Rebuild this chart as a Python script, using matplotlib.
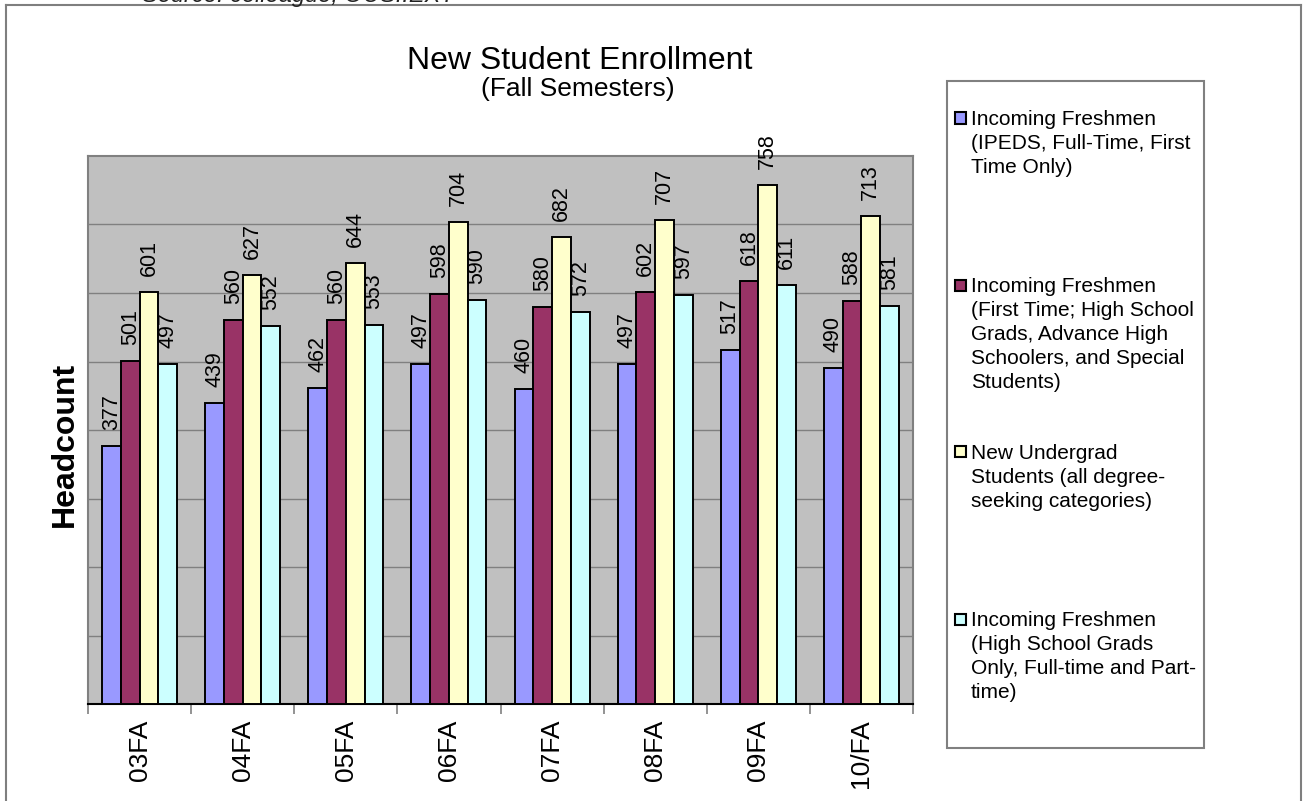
import matplotlib
matplotlib.use("Agg")
import matplotlib.pyplot as plt
from matplotlib.patches import Rectangle
from matplotlib.lines import Line2D
import numpy as np

plt.rcParams['font.family'] = ['Liberation Sans', 'DejaVu Sans']

categories = ["03FA", "04FA", "05FA", "06FA", "07FA", "08FA", "09FA", "10/FA"]
ipeds_ft = [377, 439, 462, 497, 460, 497, 517, 490]
first_time_all = [501, 560, 560, 598, 580, 602, 618, 588]
new_undergrad = [601, 627, 644, 704, 682, 707, 758, 713]
hs_grads = [497, 552, 553, 590, 572, 597, 611, 581]

series_labels = [
    "Incoming Freshmen\n(IPEDS, Full-Time, First\nTime Only)",
    "Incoming Freshmen\n(First Time; High School\nGrads, Advance High\nSchoolers, and Special\nStudents)",
    "New Undergrad\nStudents (all degree-\nseeking categories)",
    "Incoming Freshmen\n(High School Grads\nOnly, Full-time and Part-\ntime)",
]
series_values = [ipeds_ft, first_time_all, new_undergrad, hs_grads]
colors = ["#9999FF", "#993366", "#FFFFCC", "#CCFFFF"]

W, H = 1303, 801
fig = plt.figure(figsize=(W / 100, H / 100), dpi=100)

def px(x, y):
    return x / W, 1 - y / H

# axes placement
left, right, top, bottom = 88, 913, 156, 704
ax = fig.add_axes([left / W, 1 - bottom / H, (right - left) / W, (bottom - top) / H])
ax.set_facecolor("#C0C0C0")

x = np.arange(len(categories))
bw = 0.182
for i, (vals, c) in enumerate(zip(series_values, colors)):
    bars = ax.bar(x + (i - 1.5) * bw, vals, bw, color=c, edgecolor="black",
                  linewidth=1.4, zorder=3)
    ax.bar_label(bars, labels=[str(v) for v in vals], rotation=90, padding=11.5,
                 fontsize=15.5, color="black")

ax.set_xlim(-0.5, len(categories) - 0.5)
ax.set_ylim(0, 800)
ax.set_yticks(np.arange(100, 800, 100))
ax.yaxis.grid(True, color="#808080", linewidth=1.0, zorder=1)
ax.tick_params(axis="y", length=0, labelleft=False)

ax.set_xticks(np.arange(-0.5, len(categories), 1.0))
ax.set_xticklabels([])
ax.tick_params(axis="x", which="major", length=7, color="#808080", width=1.2)
ax.set_xticks(x, minor=True)
ax.set_xticklabels(categories, minor=True, rotation=90, fontsize=19)
ax.tick_params(axis="x", which="minor", length=0, pad=11)

for s in ax.spines.values():
    s.set_color("#808080")
    s.set_linewidth(1.5)
ax.spines["bottom"].set_color("black")

# titles
fig.text(*px(580, 69), "New Student Enrollment", fontsize=23, ha="center", va="baseline")
fig.text(*px(578, 96), "(Fall Semesters)", fontsize=19, ha="center", va="baseline")
fig.text(*px(64.5, 444), "Headcount", fontsize=23, fontweight="bold",
         rotation=90, ha="center", va="center")
fig.text(*px(142, 2), "Source: colleague; OUSI.EXT", fontsize=17, style="italic",
         ha="left", va="baseline", color="#222222")

# outer border
bc = "#7f7f7f"
fig.add_artist(Line2D([6 / W, 1301 / W], [1 - 5 / H] * 2, color=bc, lw=1.5))
fig.add_artist(Line2D([6 / W] * 2, [1 - 5 / H, 0], color=bc, lw=1.5))
fig.add_artist(Line2D([1301 / W] * 2, [1 - 5 / H, 0], color=bc, lw=1.5))

# legend box
lx0, ly0, lx1, ly1 = 947, 81, 1204, 748
fig.add_artist(Rectangle(px(lx0, ly1), (lx1 - lx0) / W, (ly1 - ly0) / H,
                         transform=fig.transFigure, facecolor="white",
                         edgecolor="#808080", lw=1.5))
for i, (lab, c) in enumerate(zip(series_labels, colors)):
    cy = 118 + 167 * i
    fig.add_artist(Rectangle(px(955, cy + 5.5), 11 / W, 11 / H,
                             transform=fig.transFigure, facecolor=c,
                             edgecolor="black", lw=1.5))
    fig.text(*px(971, cy - 8), lab, fontsize=15, ha="left", va="top",
             linespacing=1.33)

fig.savefig("out.png", dpi=100)
